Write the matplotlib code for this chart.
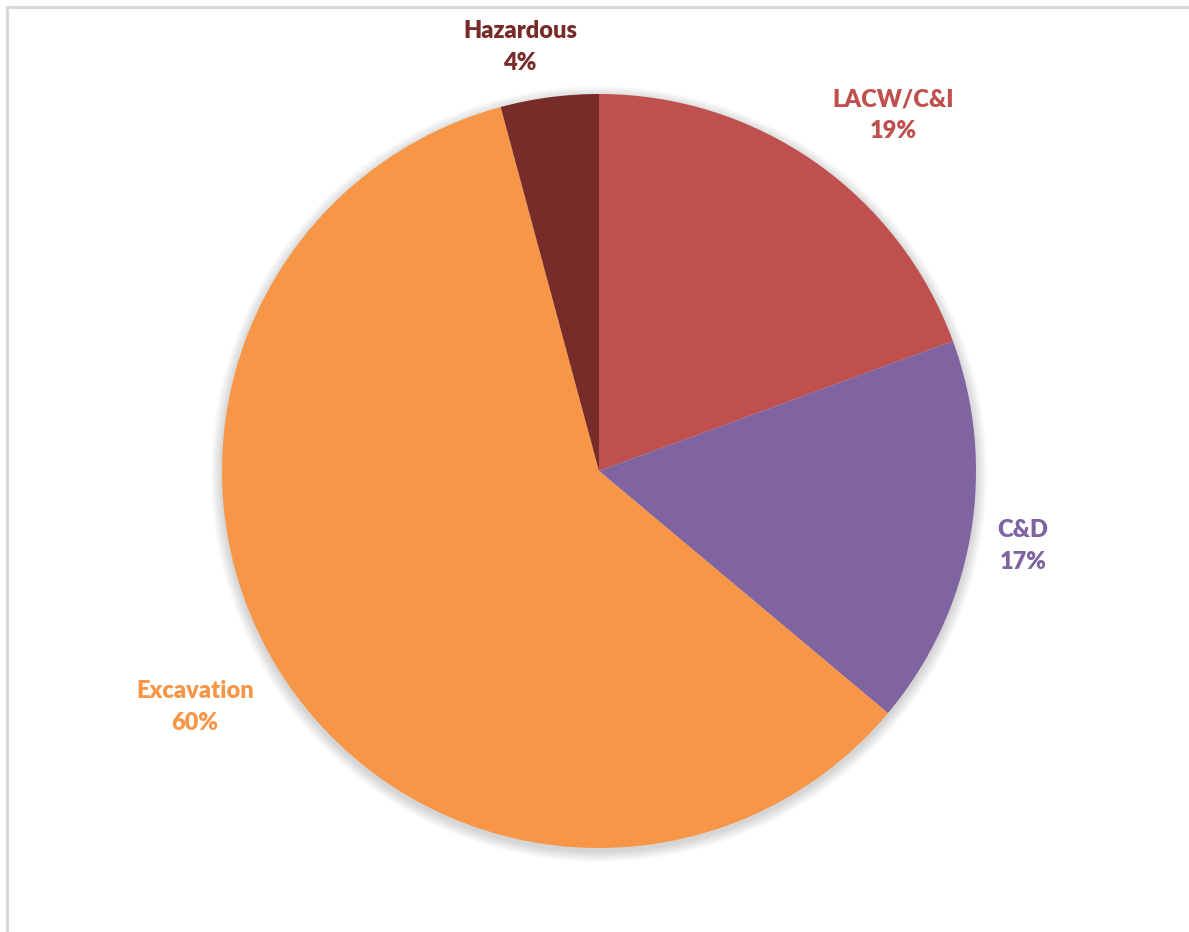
import matplotlib
matplotlib.use("Agg")
import matplotlib.pyplot as plt
from matplotlib.patches import Rectangle, Circle

categories = ["LACW/C&I", "C&D", "Excavation", "Hazardous"]
values = [19.4, 16.7, 59.7, 4.2]
colors = ["#C0504D", "#8064A2", "#F79646", "#772C2A"]
text_colors = ["#C0504D", "#8064A2", "#F79646", "#772C2A"]

W, H = 1189, 932
fig = plt.figure(figsize=(W / 100, H / 100), dpi=100)
fig.patch.set_facecolor("white")

# outer frame (only top/left visible in reference)
fig.patches.append(Rectangle((7 / W, -0.05), 1.2, (H - 7) / H + 0.05, transform=fig.transFigure,
                             fill=False, edgecolor="#D9D9D9", linewidth=2.2))

cx, cy, r = 599, 471, 377
ax = fig.add_axes([(cx - r) / W, (H - cy - r) / H, 2 * r / W, 2 * r / H])
px = 1.0 / r
# soft shadow
n = 14
for i in range(n, 0, -1):
    ax.add_patch(Circle((0, -3 * px), 1 + i * 0.8 * px, facecolor="#000000",
                        alpha=0.012, edgecolor="none", clip_on=False, zorder=0))
ax.pie(values, colors=colors, startangle=90, counterclock=False, radius=1,
       wedgeprops=dict(linewidth=0, zorder=2))
ax.set_xlim(-1, 1)
ax.set_ylim(-1, 1)
ax.set_aspect("equal")
ax.axis("off")

label_pos = {"LACW/C&I": (893, 99), "C&D": (1023, 530), "Excavation": (195, 691), "Hazardous": (520, 31)}
for cat, val, tc in zip(categories, values, text_colors):
    x, y = label_pos[cat]
    fig.text(x / W, 1 - y / H, cat, ha="center", va="center", color=tc,
             fontsize=17, fontweight="heavy", family="Lato")
    fig.text(x / W, 1 - (y + 32) / H, f"{round(val)}%", ha="center", va="center", color=tc,
             fontsize=17, fontweight="heavy", family="Lato")

fig.savefig("out.png", dpi=100)
